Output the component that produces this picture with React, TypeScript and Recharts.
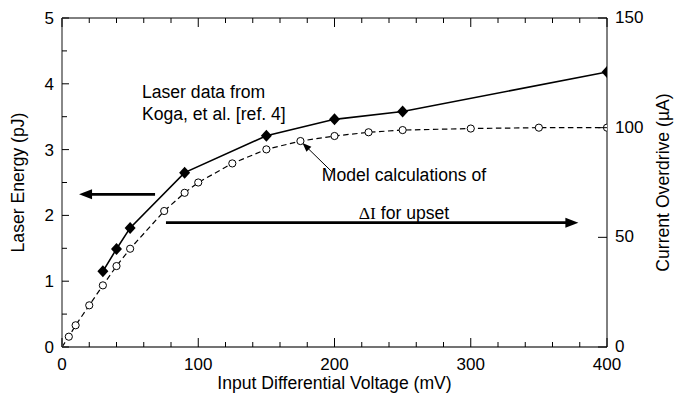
import { ComposedChart, Line, XAxis, YAxis, ReferenceLine, ReferenceDot, Label } from 'recharts'

const FONT = '"Liberation Sans", Arial, Helvetica, sans-serif'
const SERIF = '"Liberation Serif", "Times New Roman", serif'

// axis ticks
const voltageTicks = [0, 20, 40, 60, 80, 100, 120, 140, 160, 180, 200, 220, 240, 260, 280, 300, 320, 340, 360, 380, 400]
const energyTicks = [0, 0.5, 1, 1.5, 2, 2.5, 3, 3.5, 4, 4.5, 5]
const currentTicks = [0, 50, 100, 150]

// laser data (pJ, left axis)
const laserVoltage = [30, 40, 50, 90, 150, 200, 250, 400]
const laserEnergy = [1.15, 1.49, 1.81, 2.65, 3.21, 3.46, 3.58, 4.18]

// model calculations (uA, right axis)
const modelVoltage = [0, 5, 10, 20, 30, 40, 50, 75, 90, 100, 125, 150, 175, 200, 225, 250, 300, 350, 400]
const modelCurrent = [0, 4.7, 9.9, 19.0, 28.1, 36.9, 44.8, 62.0, 70.3, 75.0, 83.7, 90.1, 93.9, 96.2, 97.9, 98.9, 99.6, 100, 100]

// annotation anchors, in (mV, pJ)
const laserNote = ['Laser data from', 'Koga, et al. [ref. 4]']
const laserNoteAt = [{ x: 58.7, y: 3.875 }, { x: 58.7, y: 3.54 }]
const modelNoteAt = [{ x: 251, y: 2.61 }, { x: 251, y: 2.03 }]
const leftArrow = [{ x: 68.3, y: 2.32 }, { x: 12.5, y: 2.32 }]
const rightArrow = [{ x: 76.3, y: 1.89 }, { x: 379, y: 1.89 }]
const modelArrow = [{ x: 198, y: 2.665 }, { x: 176.5, y: 3.1 }]

const laserData = laserVoltage.map((x, i) => ({ x, y: laserEnergy[i] }))
const modelData = modelVoltage.map((x, i) => ({ x, y: modelCurrent[i] }))

function BottomTick({ x, y, payload }: any) {
  const v = payload.value
  const major = v % 100 === 0
  return (
    <g>
      <line x1={x} x2={x} y1={y} y2={y - (major ? 9 : 5)} stroke="#000" />
      {major && (
        <text x={x} y={y + 23} textAnchor="middle" fontSize={17} fontFamily={FONT} fill="#000">
          {v}
        </text>
      )}
    </g>
  )
}

function TopTick({ x, y, payload }: any) {
  const major = payload.value % 100 === 0
  return <line x1={x} x2={x} y1={y} y2={y + (major ? 9 : 5)} stroke="#000" />
}

function LeftTick({ x, y, payload }: any) {
  const v = payload.value
  const major = Number.isInteger(v)
  return (
    <g>
      <line x1={x} x2={x + (major ? 7 : 5)} y1={y} y2={y} stroke="#000" />
      {major && (
        <text x={x - 8} y={y + 6} textAnchor="end" fontSize={17} fontFamily={FONT} fill="#000">
          {v}
        </text>
      )}
    </g>
  )
}

function RightTick({ x, y, payload }: any) {
  return (
    <g>
      <line x1={x} x2={x - 9} y1={y} y2={y} stroke="#000" />
      <text x={x + 8} y={y + 5} textAnchor="start" fontSize={17} fontFamily={FONT} fill="#000">
        {payload.value}
      </text>
    </g>
  )
}

function Diamond({ cx, cy }: any) {
  if (cx == null || cy == null) return <g />
  return <polygon points={`${cx},${cy - 6} ${cx + 5.5},${cy} ${cx},${cy + 6} ${cx - 5.5},${cy}`} fill="#000" />
}

function OpenCircle({ cx, cy, payload }: any) {
  if (cx == null || cy == null || payload.x === 0) return <g />
  return <circle cx={cx} cy={cy} r={3.6} fill="#fff" stroke="#000" strokeWidth={1} />
}

function arrow(width: number, head: number, half: number) {
  return (p: any) => {
    const { x1, y1, x2, y2 } = p
    const dx = x2 - x1
    const dy = y2 - y1
    const len = Math.hypot(dx, dy) || 1
    const ux = dx / len
    const uy = dy / len
    const bx = x2 - ux * head
    const by = y2 - uy * head
    const pts = `${x2},${y2} ${bx - uy * half},${by + ux * half} ${bx + uy * half},${by - ux * half}`
    return (
      <g>
        <line x1={x1} y1={y1} x2={bx + ux * 1} y2={by + uy * 1} stroke="#000" strokeWidth={width} />
        <polygon points={pts} fill="#000" />
      </g>
    )
  }
}

function noteText(content: any, anchor: 'start' | 'middle') {
  return (p: any) => (
    <text x={p.cx} y={p.cy + 6} textAnchor={anchor} fontSize={17.6} fontFamily={FONT} fill="#000">
      {content}
    </text>
  )
}

export default function App() {
  return (
    <div style={{ position: 'absolute', left: 0, top: 0, background: '#fff' }}>
      <ComposedChart width={675} height={400} margin={{ top: 0, right: 0, bottom: 0, left: 0 }}>
        <XAxis
          dataKey="x"
          type="number"
          domain={[0, 400]}
          ticks={voltageTicks}
          interval={0}
          allowDataOverflow
          height={53}
          tickSize={0}
          tickMargin={0}
          tickLine={false}
          axisLine={{ stroke: '#444', strokeWidth: 1.5 }}
          tick={<BottomTick />}
        >
          <Label
            content={(p: any) => (
              <text
                x={p.viewBox.x + p.viewBox.width / 2}
                y={p.viewBox.y + 42}
                textAnchor="middle"
                fontSize={17.6}
                fontFamily={FONT}
                fill="#000"
              >
                Input Differential Voltage (mV)
              </text>
            )}
          />
        </XAxis>
        <XAxis
          xAxisId="top"
          orientation="top"
          dataKey="x"
          type="number"
          domain={[0, 400]}
          ticks={voltageTicks}
          interval={0}
          allowDataOverflow
          height={18}
          tickSize={0}
          tickMargin={0}
          tickLine={false}
          axisLine={{ stroke: '#000' }}
          tick={<TopTick />}
        />
        <YAxis
          yAxisId="left"
          type="number"
          domain={[0, 5]}
          ticks={energyTicks}
          interval={0}
          allowDataOverflow
          width={62}
          tickSize={0}
          tickMargin={0}
          tickLine={false}
          axisLine={{ stroke: '#888', strokeWidth: 2 }}
          tick={<LeftTick />}
        >
          <Label
            content={(p: any) => {
              const cy = p.viewBox.y + p.viewBox.height / 2
              return (
                <text
                  x={18}
                  y={cy}
                  transform={`rotate(-90 18 ${cy})`}
                  textAnchor="middle"
                  dominantBaseline="central"
                  fontSize={17.6}
                  fontFamily={FONT}
                  fill="#000"
                >
                  Laser Energy (pJ)
                </text>
              )
            }}
          />
        </YAxis>
        <YAxis
          yAxisId="right"
          orientation="right"
          type="number"
          domain={[0, 150]}
          ticks={currentTicks}
          interval={0}
          allowDataOverflow
          width={68}
          tickSize={0}
          tickMargin={0}
          tickLine={false}
          axisLine={{ stroke: '#000' }}
          tick={<RightTick />}
        >
          <Label
            content={(p: any) => {
              const cx = p.viewBox.x + 56
              const cy = p.viewBox.y + p.viewBox.height / 2
              return (
                <text
                  x={cx}
                  y={cy}
                  transform={`rotate(-90 ${cx} ${cy})`}
                  textAnchor="middle"
                  dominantBaseline="central"
                  fontSize={17.6}
                  fontFamily={FONT}
                  fill="#000"
                >
                  Current Overdrive (µA)
                </text>
              )
            }}
          />
        </YAxis>

        <Line
          yAxisId="right"
          data={modelData}
          dataKey="y"
          type="linear"
          stroke="#000"
          strokeWidth={1.2}
          strokeDasharray="5.5 3.5"
          dot={<OpenCircle />}
          activeDot={false}
          isAnimationActive={false}
        />
        <Line
          yAxisId="left"
          data={laserData}
          dataKey="y"
          type="linear"
          stroke="#000"
          strokeWidth={1.6}
          dot={<Diamond />}
          activeDot={false}
          isAnimationActive={false}
        />

        <ReferenceLine yAxisId="left" segment={leftArrow} ifOverflow="visible" shape={arrow(2.6, 13, 5)} />
        <ReferenceLine yAxisId="left" segment={rightArrow} ifOverflow="visible" shape={arrow(2.6, 13, 5)} />
        <ReferenceLine yAxisId="left" segment={modelArrow} ifOverflow="visible" shape={arrow(1, 9, 3.5)} />

        <ReferenceDot yAxisId="left" x={laserNoteAt[0].x} y={laserNoteAt[0].y} r={0} ifOverflow="visible" shape={noteText(laserNote[0], 'start')} />
        <ReferenceDot yAxisId="left" x={laserNoteAt[1].x} y={laserNoteAt[1].y} r={0} ifOverflow="visible" shape={noteText(laserNote[1], 'start')} />
        <ReferenceDot yAxisId="left" x={modelNoteAt[0].x} y={modelNoteAt[0].y} r={0} ifOverflow="visible" shape={noteText('Model calculations of', 'middle')} />
        <ReferenceDot
          yAxisId="left"
          x={modelNoteAt[1].x}
          y={modelNoteAt[1].y}
          r={0}
          ifOverflow="visible"
          shape={noteText(
            <>
              <tspan fontFamily={SERIF}>ΔI</tspan>
              <tspan> for upset</tspan>
            </>,
            'middle'
          )}
        />
      </ComposedChart>
    </div>
  )
}
